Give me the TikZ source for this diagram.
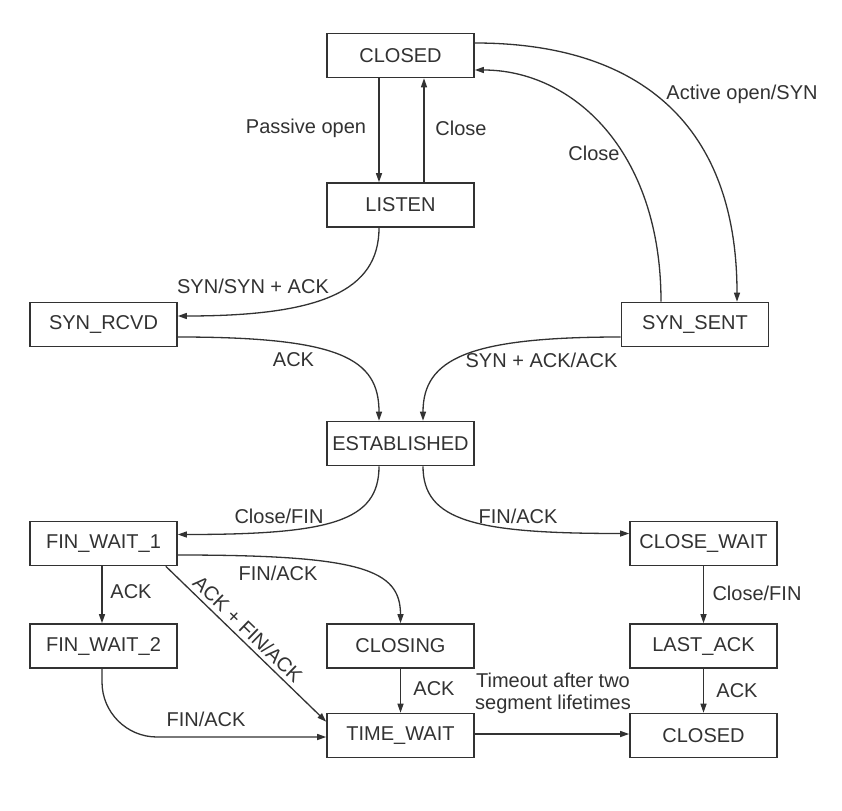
\documentclass[tikz,border=0pt]{standalone}
\usepackage{fontspec}
\setmainfont{Liberation Sans}
\usetikzlibrary{arrows.meta}
\definecolor{ink}{RGB}{50,50,50}
\begin{document}
\begin{tikzpicture}[x=1pt,y=-1pt,
  state/.style={draw=ink, line width=1.6pt, minimum width=147pt, minimum height=44pt,
    inner sep=0pt, text=ink, font=\fontsize{20}{24}\selectfont},
  lbl/.style={text=ink, font=\fontsize{20}{22}\selectfont, inner sep=0pt},
  edge/.style={draw=ink, line width=1.3pt, -{Triangle[length=9pt,width=6pt]}}]
\useasboundingbox[fill=white] (0,0) rectangle (842,810);

% states
\node[state] (ct) at (400.5,55.5) {CLOSED};
\node[state] (ls) at (400.5,205) {LISTEN};
\node[state] (sr) at (103.5,324.5) {SYN\_RCVD};
\node[state] (ss) at (695,324.5) {SYN\_SENT};
\node[state] (es) at (400.5,443.5) {ESTABLISHED};
\node[state] (f1) at (103.5,543.5) {FIN\_WAIT\_1};
\node[state] (cw) at (703.5,543.5) {CLOSE\_WAIT};
\node[state] (f2) at (103.5,646) {FIN\_WAIT\_2};
\node[state] (cg) at (400.5,646) {CLOSING};
\node[state] (la) at (703.5,646) {LAST\_ACK};
\node[state] (tw) at (400.5,735.5) {TIME\_WAIT};
\node[state] (cb) at (703.5,735.5) {CLOSED};

% connectors
\draw[edge] ([xshift=-21.5pt]ct.south) -- ([xshift=-21.5pt]ls.north);
\draw[edge] ([xshift=23.5pt]ls.north) -- ([xshift=23.5pt]ct.south);
\draw[edge] ([yshift=12.5pt]ct.east) .. controls +(167,0) and +(0,-175) .. ([xshift=42pt]ss.north);
\draw[edge] ([xshift=-34pt]ss.north) .. controls +(0,-152) and +(97,0) .. ([yshift=-14.5pt]ct.east);
\draw[edge] ([xshift=-21.5pt]ls.south) .. controls +(0,63) and +(143,0) .. ([yshift=8.5pt]sr.east);
\draw[edge] ([yshift=-12.5pt]sr.east) .. controls +(163,0) and +(0,-62) .. ([xshift=-21.5pt]es.north);
\draw[edge] ([yshift=-12.5pt]ss.west) .. controls +(-152,0) and +(0,-62) .. ([xshift=22.5pt]es.north);
\draw[edge] ([xshift=-21.5pt]es.south) .. controls +(0,55) and +(153,0) .. ([yshift=9pt]f1.east);
\draw[edge] ([xshift=22.5pt]es.south) .. controls +(0,55) and +(-153,0) .. ([yshift=10pt]cw.west);
\draw[edge] ([yshift=-11.5pt]f1.east) .. controls +(183,0) and +(0,-54) .. (cg.north);
\draw[edge] ([xshift=-1.5pt]f1.south) -- ([xshift=-1.5pt]f2.north);
\draw[edge] ([xshift=-12pt]f1.south east) -- node[lbl, sloped, above=4pt, pos=0.46] {ACK + FIN/ACK} ([yshift=-9pt]tw.north west);
\draw[edge] (cg.south) -- (tw.north);
\draw[edge, rounded corners=55pt] ([xshift=-1.5pt]f2.south) |- ([yshift=-1.5pt]tw.west);
\draw[edge] ([yshift=1.5pt]tw.east) -- ([yshift=1.5pt]cb.west);
\draw[edge] (cw.south) -- (la.north);
\draw[edge] (la.south) -- (cb.north);

% labels
\node[lbl] (l1) at (306,128) {Passive open};
\node[lbl] (l2) at (461,128) {Close};
\node[lbl] (l3) at (742,94) {Active open/SYN};
\node[lbl] (l4) at (594,153) {Close};
\node[lbl] (l5) at (253,286) {SYN/SYN + ACK};
\node[lbl] (l6) at (293.5,360) {ACK};
\node[lbl] (l7) at (541.5,360) {SYN + ACK/ACK};
\node[lbl] (l8) at (279,516) {Close/FIN};
\node[lbl] (l9) at (518,516) {FIN/ACK};
\node[lbl] (l10) at (278,573) {FIN/ACK};
\node[lbl] (l11) at (131,592) {ACK};
\node[lbl] (l12) at (434,689) {ACK};
\node[lbl, align=center, font=\fontsize{20}{22}\selectfont] (l13) at (553,693) {Timeout after two\\segment lifetimes};
\node[lbl] (l14) at (206,719) {FIN/ACK};
\node[lbl] (l15) at (757,593) {Close/FIN};
\node[lbl] (l16) at (737,691) {ACK};
\end{tikzpicture}
\end{document}
